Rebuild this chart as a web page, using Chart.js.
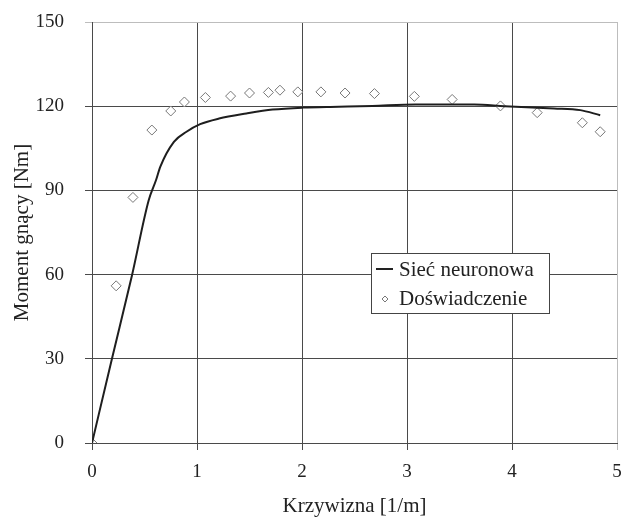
<!DOCTYPE html>
<html>
<head>
<meta charset="utf-8">
<script src="https://cdn.jsdelivr.net/npm/chart.js@4/dist/chart.umd.min.js"></script>
<style>
  body { margin: 0; background: #fff; }
  #wrap { width: 623px; height: 523px; }
</style>
</head>
<body>
<div id="wrap"><canvas id="myChart" width="623" height="523"></canvas></div>
<script>
// dane
const siecX = [0, 0.19, 0.38, 0.54, 0.61, 0.65, 0.78, 0.9, 1.03, 1.21, 1.47, 1.72, 2.01, 2.35, 2.67, 3.08, 3.64, 3.93, 4.4, 4.65, 4.84];
const siecY = [0, 30, 59.6, 86.5, 93.7, 98.4, 107.3, 110.9, 113.6, 115.6, 117.4, 118.8, 119.5, 119.8, 120.1, 120.6, 120.6, 120, 119.2, 118.6, 116.8];

const doswX = [0, 0.23, 0.39, 0.57, 0.75, 0.88, 1.08, 1.32, 1.5, 1.68, 1.79, 1.96, 2.18, 2.41, 2.69, 3.07, 3.43, 3.89, 4.24, 4.67, 4.84];
const doswY = [0, 56, 87.5, 111.5, 118.3, 121.5, 123.1, 123.6, 124.7, 124.9, 125.7, 125.1, 125.1, 124.7, 124.5, 123.5, 122.4, 120.1, 117.7, 114.1, 110.9];

const xTicks = [0, 1, 2, 3, 4, 5];
const yTicks = [0, 30, 60, 90, 120, 150];

const serif = "'Liberation Serif', 'Times New Roman', serif";

// legenda w ramce wewnątrz wykresu
const legendBox = {
  id: "legendBox",
  afterDatasetsDraw(chart) {
    const ctx = chart.ctx;
    const x = 371, y = 253, w = 178, h = 60;
    ctx.save();
    ctx.fillStyle = "#fff";
    ctx.fillRect(x, y, w, h);
    ctx.strokeStyle = "#444";
    ctx.lineWidth = 1;
    ctx.strokeRect(x + 0.5, y + 0.5, w, h);

    ctx.strokeStyle = "#222";
    ctx.lineWidth = 2;
    ctx.beginPath();
    ctx.moveTo(376, 269);
    ctx.lineTo(393, 269);
    ctx.stroke();

    ctx.strokeStyle = "#777";
    ctx.lineWidth = 1;
    ctx.beginPath();
    ctx.moveTo(385, 296);
    ctx.lineTo(388, 299);
    ctx.lineTo(385, 302);
    ctx.lineTo(382, 299);
    ctx.closePath();
    ctx.stroke();

    ctx.fillStyle = "#222";
    ctx.font = "21px " + serif;
    ctx.textBaseline = "middle";
    ctx.fillText(chart.data.datasets[0].label, 399, 270);
    ctx.fillText(chart.data.datasets[1].label, 399, 299);
    ctx.restore();
  }
};

const edgeGrid = (edge) => (c) => (c.tick && c.tick.value === edge ? "#bdbdbd" : "#4a4a4a");

const config = {
  type: "scatter",
  data: {
    datasets: [
      {
        label: "Sieć neuronowa",
        data: siecX.map((v, i) => ({ x: v, y: siecY[i] })),
        showLine: true,
        borderColor: "#1e1e1e",
        borderWidth: 2,
        pointRadius: 0,
        cubicInterpolationMode: "monotone"
      },
      {
        label: "Doświadczenie",
        data: doswX.map((v, i) => ({ x: v, y: doswY[i] })),
        showLine: false,
        pointStyle: "rectRot",
        pointRadius: 5,
        borderColor: "#777",
        borderWidth: 1,
        backgroundColor: "#fff"
      }
    ]
  },
  options: {
    responsive: false,
    animation: false,
    layout: { padding: { top: 22, right: 3, left: 0, bottom: 0 } },
    plugins: {
      legend: { display: false },
      tooltip: { enabled: false }
    },
    scales: {
      x: {
        type: "linear",
        min: 0,
        max: 5,
        afterBuildTicks: (s) => { s.ticks = xTicks.map((v) => ({ value: v })); },
        afterFit: (s) => { s.height = 80; s.paddingLeft = 0; s.paddingRight = 0; },
        grid: { color: edgeGrid(5), lineWidth: 1, tickLength: 7 },
        border: { color: "#4a4a4a" },
        ticks: { color: "#222", padding: 11, font: { family: serif, size: 19 } },
        title: {
          display: true,
          text: "Krzywizna [1/m]",
          color: "#222",
          padding: { top: 0, bottom: 4 },
          font: { family: serif, size: 21 }
        }
      },
      y: {
        type: "linear",
        min: 0,
        max: 150,
        afterBuildTicks: (s) => { s.ticks = yTicks.map((v) => ({ value: v })); },
        afterFit: (s) => { s.width = 92; s.paddingTop = 0; s.paddingBottom = 0; },
        grid: { color: edgeGrid(150), lineWidth: 1, tickLength: 7 },
        border: { color: "#4a4a4a" },
        ticks: { color: "#222", padding: 21, font: { family: serif, size: 19 } },
        title: {
          display: true,
          text: "Moment gnący [Nm]",
          color: "#222",
          padding: { top: 10, bottom: 0 },
          font: { family: serif, size: 21 }
        }
      }
    }
  },
  plugins: [legendBox]
};

const myChart = new Chart(document.getElementById("myChart"), config);
</script>
</body>
</html>
